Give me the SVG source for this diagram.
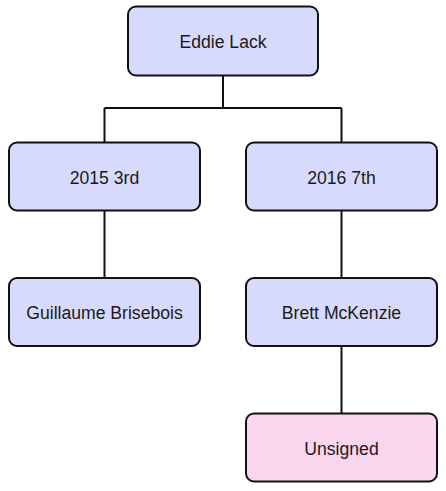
<svg xmlns="http://www.w3.org/2000/svg" width="446" height="491" viewBox="0 0 446 491">
<style>
.box{fill:#d7dafc;stroke:#111;stroke-width:2}
.unsigned{fill:#fad5ee;stroke:#111;stroke-width:2}
.lbl{font-family:"Liberation Sans",Arial,sans-serif;font-size:17.6px;fill:#1a1a1a;text-anchor:middle;dominant-baseline:central}
.conn{fill:none;stroke:#111;stroke-width:2}
</style>
<rect width="446" height="491" fill="#fff"/>
<g id="connectors">
<path class="conn" d="M223 76 V108 M104.5 108 H341.5 M104.5 108 V142 M341.5 108 V142"/>
<path class="conn" d="M104.5 210 V278"/>
<path class="conn" d="M341.5 210 V278"/>
<path class="conn" d="M341.5 346 V413"/>
</g>
<g id="eddie-lack"><rect class="box" x="128" y="6.5" width="190" height="69" rx="8"/><text class="lbl" x="223" y="42">Eddie Lack</text></g>
<g id="pick-2015"><rect class="box" x="9" y="142.5" width="191" height="68" rx="8"/><text class="lbl" x="104.5" y="178">2015 3rd</text></g>
<g id="pick-2016"><rect class="box" x="246" y="142.5" width="191" height="68" rx="8"/><text class="lbl" x="341.5" y="178">2016 7th</text></g>
<g id="guillaume-brisebois"><rect class="box" x="9" y="278" width="191" height="68" rx="8"/><text class="lbl" x="104.5" y="313">Guillaume Brisebois</text></g>
<g id="brett-mckenzie"><rect class="box" x="246" y="278" width="191" height="68" rx="8"/><text class="lbl" x="341.5" y="313">Brett McKenzie</text></g>
<g id="unsigned"><rect class="unsigned" x="246" y="413.5" width="191" height="68" rx="8"/><text class="lbl" x="341.5" y="449">Unsigned</text></g>
</svg>
